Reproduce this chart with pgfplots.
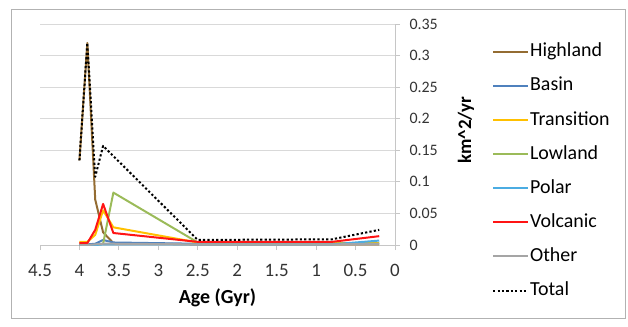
\documentclass[border=0pt]{standalone}
\usepackage{pgfplots}
\pgfplotsset{compat=1.18}
\usepackage{fontspec}
\setmainfont{Carlito}
\definecolor{highland}{RGB}{148,108,50}
\definecolor{basin}{RGB}{79,129,189}
\definecolor{transition}{RGB}{255,192,0}
\definecolor{lowland}{RGB}{155,187,89}
\definecolor{polar}{RGB}{75,172,226}
\definecolor{volcanic}{RGB}{255,20,20}
\definecolor{other}{RGB}{165,165,165}
\begin{document}
\begin{tikzpicture}[x=1bp,y=1bp]
\useasboundingbox (0,0) rectangle (628,326);
\draw[gray!60, line width=0.8bp] (11,8) rectangle (625,317);
\begin{axis}[
  at={(40bp,81bp)}, anchor=south west,
  width=355bp, height=221bp, scale only axis,
  xmin=0, xmax=4.5, x dir=reverse,
  ymin=0, ymax=0.35,
  axis x line=bottom, axis y line=right,
  axis line style={-, gray!45, line width=0.8bp},
  xtick={0,0.5,1,1.5,2,2.5,3,3.5,4,4.5},
  ytick={0,0.05,0.1,0.15,0.2,0.25,0.3,0.35},
  xticklabels={0,0.5,1,1.5,2,2.5,3,3.5,4,4.5},
  yticklabels={0,0.05,0.1,0.15,0.2,0.25,0.3,0.35},
  ymajorgrids, grid style={gray!30, line width=0.8bp},
  tick style={gray!45, line width=0.8bp}, major tick length=5bp, tick align=outside,
  x tick label style={font=\fontsize{19}{19}\selectfont, text=black!80, yshift=-11bp},
  y tick label style={font=\fontsize{16}{16}\selectfont, text=black!80, anchor=west, xshift=6bp},
  xlabel={\textbf{Age (Gyr)}}, ylabel={\textbf{km\textasciicircum 2/yr}},
  xlabel style={font=\fontsize{20}{20}\selectfont, at={(axis description cs:0.5,-0.24)}, anchor=center},
  ylabel style={font=\fontsize{19}{19}\selectfont, at={(axis description cs:1.2,0.52)}, anchor=center},
  legend style={at={(axis description cs:1.273,0.92)}, anchor=north west, draw=none, fill=none,
    font=\fontsize{20}{20}\selectfont, row sep=14.1bp, inner sep=0pt,
    nodes={inner sep=1bp, text height=14bp, text depth=4bp}},
  legend cell align=left,
  legend image code/.code={\draw[#1] (0bp,0bp) -- (35bp,0bp);},
  every axis plot/.append style={line width=2bp, line join=round},
]
\addplot[highland] coordinates {(4.0,0.134) (3.9,0.320) (3.8,0.072) (3.7,0.020) (3.57,0.003) (2.5,0.001) (0.8,0.001) (0.2,0.001)};
\addplot[basin] coordinates {(4.0,0.001) (3.9,0.001) (3.8,0.002) (3.7,0.008) (3.57,0.004) (2.5,0.002) (0.8,0.002) (0.2,0.002)};
\addplot[transition] coordinates {(4.0,0.005) (3.9,0.005) (3.8,0.016) (3.7,0.055) (3.57,0.028) (2.5,0.004) (0.8,0.003) (0.2,0.003)};
\addplot[lowland] coordinates {(4.0,0.000) (3.9,0.000) (3.8,0.000) (3.7,0.002) (3.57,0.083) (2.5,0.004) (0.8,0.002) (0.2,0.002)};
\addplot[polar] coordinates {(4.0,0.000) (3.9,0.000) (3.8,0.000) (3.7,0.001) (3.57,0.001) (2.5,0.001) (0.8,0.001) (0.2,0.007)};
\addplot[volcanic] coordinates {(4.0,0.003) (3.9,0.003) (3.8,0.024) (3.7,0.065) (3.57,0.019) (2.5,0.005) (0.8,0.005) (0.2,0.014)};
\addplot[other] coordinates {(4.0,0.000) (3.9,0.000) (3.8,0.001) (3.7,0.002) (3.57,0.002) (2.5,0.001) (0.8,0.001) (0.2,0.002)};
\addplot[black, dash pattern=on 2.2bp off 2.2bp] coordinates {(4.0,0.134) (3.9,0.320) (3.8,0.108) (3.7,0.157) (2.5,0.008) (0.8,0.009) (0.2,0.024)};
\legend{Highland,Basin,Transition,Lowland,Polar,Volcanic,Other,Total}
\end{axis}
\end{tikzpicture}
\end{document}
